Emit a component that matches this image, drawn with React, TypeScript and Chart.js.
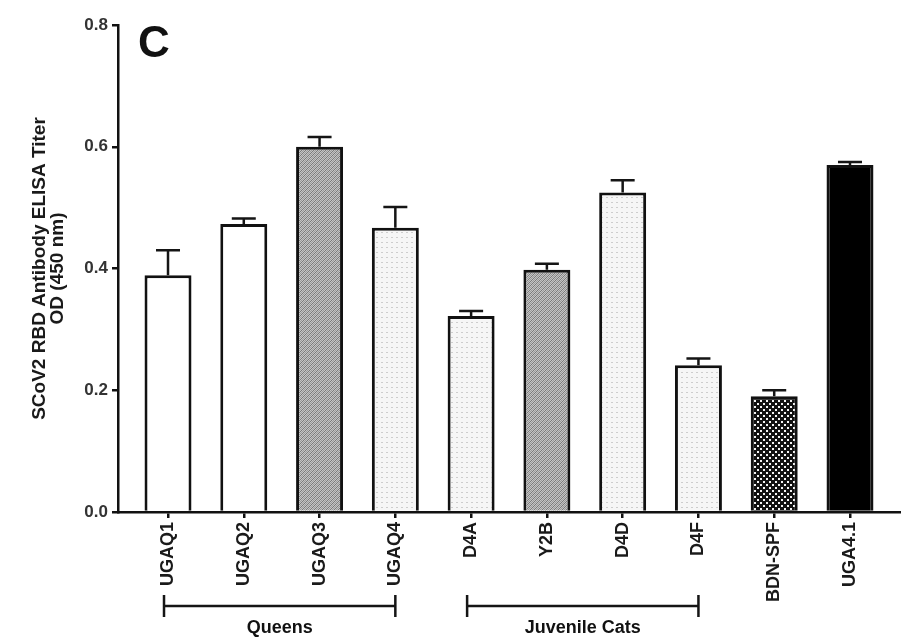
import React, { useEffect, useRef } from 'react';
import { Chart, registerables } from 'chart.js';

Chart.register(...registerables);

const categories = ['UGAQ1', 'UGAQ2', 'UGAQ3', 'UGAQ4', 'D4A', 'Y2B', 'D4D', 'D4F', 'BDN-SPF', 'UGA4.1'];
const means = [0.389, 0.473, 0.6, 0.467, 0.322, 0.398, 0.525, 0.241, 0.19, 0.57];
const errors = [0.041, 0.009, 0.016, 0.034, 0.008, 0.01, 0.02, 0.011, 0.01, 0.005];
const fillKinds = ['white', 'white', 'hatch', 'dots', 'dots', 'hatch', 'dots', 'dots', 'checker', 'black'];
const yTicks = [0, 0.2, 0.4, 0.6, 0.8];
const groupLabels = ['Queens', 'Juvenile Cats'];
const groupStart = [0, 4];
const groupEnd = [3, 7];
const panelLetter = 'C';
const yTitle = ['SCoV2 RBD Antibody ELISA Titer', 'OD (450 nm)'];

const FONT = '"Liberation Sans", Arial, Helvetica, sans-serif';

function makeFill(kind: string): string | CanvasPattern {
  if (kind === 'white') return '#ffffff';
  if (kind === 'black') return '#000000';
  const c = document.createElement('canvas');
  const g = c.getContext('2d')!;
  if (kind === 'hatch') {
    c.width = 4; c.height = 4;
    g.fillStyle = '#c4c4c4';
    g.fillRect(0, 0, 4, 4);
    g.fillStyle = '#7a7a7a';
    for (let i = 0; i < 4; i++) g.fillRect(i, 3 - i, 1, 1);
    g.fillStyle = '#9a9a9a';
    for (let i = 0; i < 4; i++) g.fillRect((i + 2) % 4, 3 - i, 1, 1);
  } else if (kind === 'dots') {
    c.width = 5; c.height = 5;
    g.fillStyle = '#f6f6f6';
    g.fillRect(0, 0, 5, 5);
    g.fillStyle = '#cdcdcd';
    g.fillRect(1, 2, 2, 1);
  } else if (kind === 'checker') {
    c.width = 6; c.height = 6;
    g.fillStyle = '#111111';
    g.fillRect(0, 0, 6, 6);
    g.fillStyle = '#f4f4f4';
    g.fillRect(1, 1, 2, 2);
    g.fillRect(4, 4, 2, 2);
  }
  return g.createPattern(c, 'repeat')!;
}

const errorBarPlugin = {
  id: 'errorBars',
  afterDatasetsDraw(chart: any) {
    const ctx = chart.ctx;
    const meta = chart.getDatasetMeta(0);
    const y = chart.scales.y;
    ctx.save();
    ctx.strokeStyle = '#151515';
    ctx.lineWidth = 2.5;
    meta.data.forEach((bar: any, i: number) => {
      const base = y.getPixelForValue(means[i]);
      const top = y.getPixelForValue(means[i] + errors[i]);
      ctx.beginPath();
      ctx.moveTo(bar.x, base);
      ctx.lineTo(bar.x, top);
      ctx.moveTo(bar.x - 12, top);
      ctx.lineTo(bar.x + 12, top);
      ctx.stroke();
    });
    ctx.restore();
  },
};

const annotationPlugin = {
  id: 'annotations',
  afterDraw(chart: any) {
    const ctx = chart.ctx;
    const x = chart.scales.x;
    const area = chart.chartArea;
    ctx.save();
    ctx.fillStyle = '#111';
    ctx.font = `bold 44px ${FONT}`;
    ctx.textAlign = 'left';
    ctx.textBaseline = 'top';
    ctx.fillText(panelLetter, area.left + 20, area.top - 2);
    const lineY = area.bottom + 94;
    ctx.strokeStyle = '#151515';
    ctx.lineWidth = 2.5;
    ctx.font = `bold 18px ${FONT}`;
    ctx.textAlign = 'center';
    ctx.textBaseline = 'middle';
    groupLabels.forEach((label, gi) => {
      const x0 = x.getPixelForValue(groupStart[gi]) - 4;
      const x1 = x.getPixelForValue(groupEnd[gi]);
      ctx.beginPath();
      ctx.moveTo(x0, lineY);
      ctx.lineTo(x1, lineY);
      ctx.moveTo(x0, lineY - 11);
      ctx.lineTo(x0, lineY + 11);
      ctx.moveTo(x1, lineY - 11);
      ctx.lineTo(x1, lineY + 11);
      ctx.stroke();
      ctx.fillText(label, (x0 + x1) / 2, lineY + 22);
    });
    ctx.restore();
  },
};

export default function App() {
  const ref = useRef<HTMLCanvasElement>(null);
  useEffect(() => {
    document.body.style.margin = '0';
    const canvas = ref.current!;
    const chart = new Chart(canvas, {
      type: 'bar',
      data: {
        datasets: [
          {
            data: means.map((v, i) => ({ x: i, y: v })),
            backgroundColor: fillKinds.map(makeFill) as any,
            borderColor: '#111111',
            borderWidth: 3,
            borderSkipped: 'bottom',
            barPercentage: 0.62,
            categoryPercentage: 1,
          },
        ],
      },
      options: {
        responsive: false,
        animation: false,
        layout: { padding: { top: 25, right: 1, left: 0, bottom: 0 } },
        plugins: { legend: { display: false }, tooltip: { enabled: false } },
        scales: {
          x: {
            type: 'linear',
            offset: false,
            min: -0.66,
            max: 9.66,
            afterFit(scale: any) { scale.height = 130; },
            border: { display: true, color: '#111', width: 2.5 },
            grid: { display: true, offset: false, drawOnChartArea: false, drawTicks: true, tickLength: 6, color: '#111', lineWidth: 2.5 },
            ticks: {
              stepSize: 1,
              includeBounds: false,
              autoSkip: false,
              minRotation: 90,
              maxRotation: 90,
              padding: 4,
              color: '#1a1a1a',
              font: { family: FONT, size: 18, weight: 'bold' },
              callback: (v: any) => (Number.isInteger(v) ? categories[v] ?? '' : ''),
            },
          },
          y: {
            type: 'linear',
            min: 0,
            max: 0.8,
            afterFit(scale: any) { scale.width = 118; },
            afterBuildTicks(scale: any) { scale.ticks = yTicks.map((v) => ({ value: v })); },
            border: { display: true, color: '#111', width: 2.5 },
            grid: { display: true, drawOnChartArea: false, drawTicks: true, tickLength: 6, color: '#111', lineWidth: 2.5 },
            ticks: {
              padding: 4,
              color: '#333',
              font: { family: FONT, size: 17, weight: 'bold' },
              callback: (v: any) => Number(v).toFixed(1),
            },
            title: {
              display: true,
              text: yTitle,
              color: '#1a1a1a',
              font: { family: FONT, size: 19, weight: 'bold', lineHeight: 0.95 },
              padding: { top: 31, bottom: 0 },
            },
          },
        },
      } as any,
      plugins: [errorBarPlugin, annotationPlugin],
    });
    return () => chart.destroy();
  }, []);
  return (
    <div style={{ position: 'absolute', left: 0, top: 0, width: 901, height: 642, background: '#fff' }}>
      <canvas ref={ref} width={901} height={642} style={{ display: 'block' }} />
    </div>
  );
}
